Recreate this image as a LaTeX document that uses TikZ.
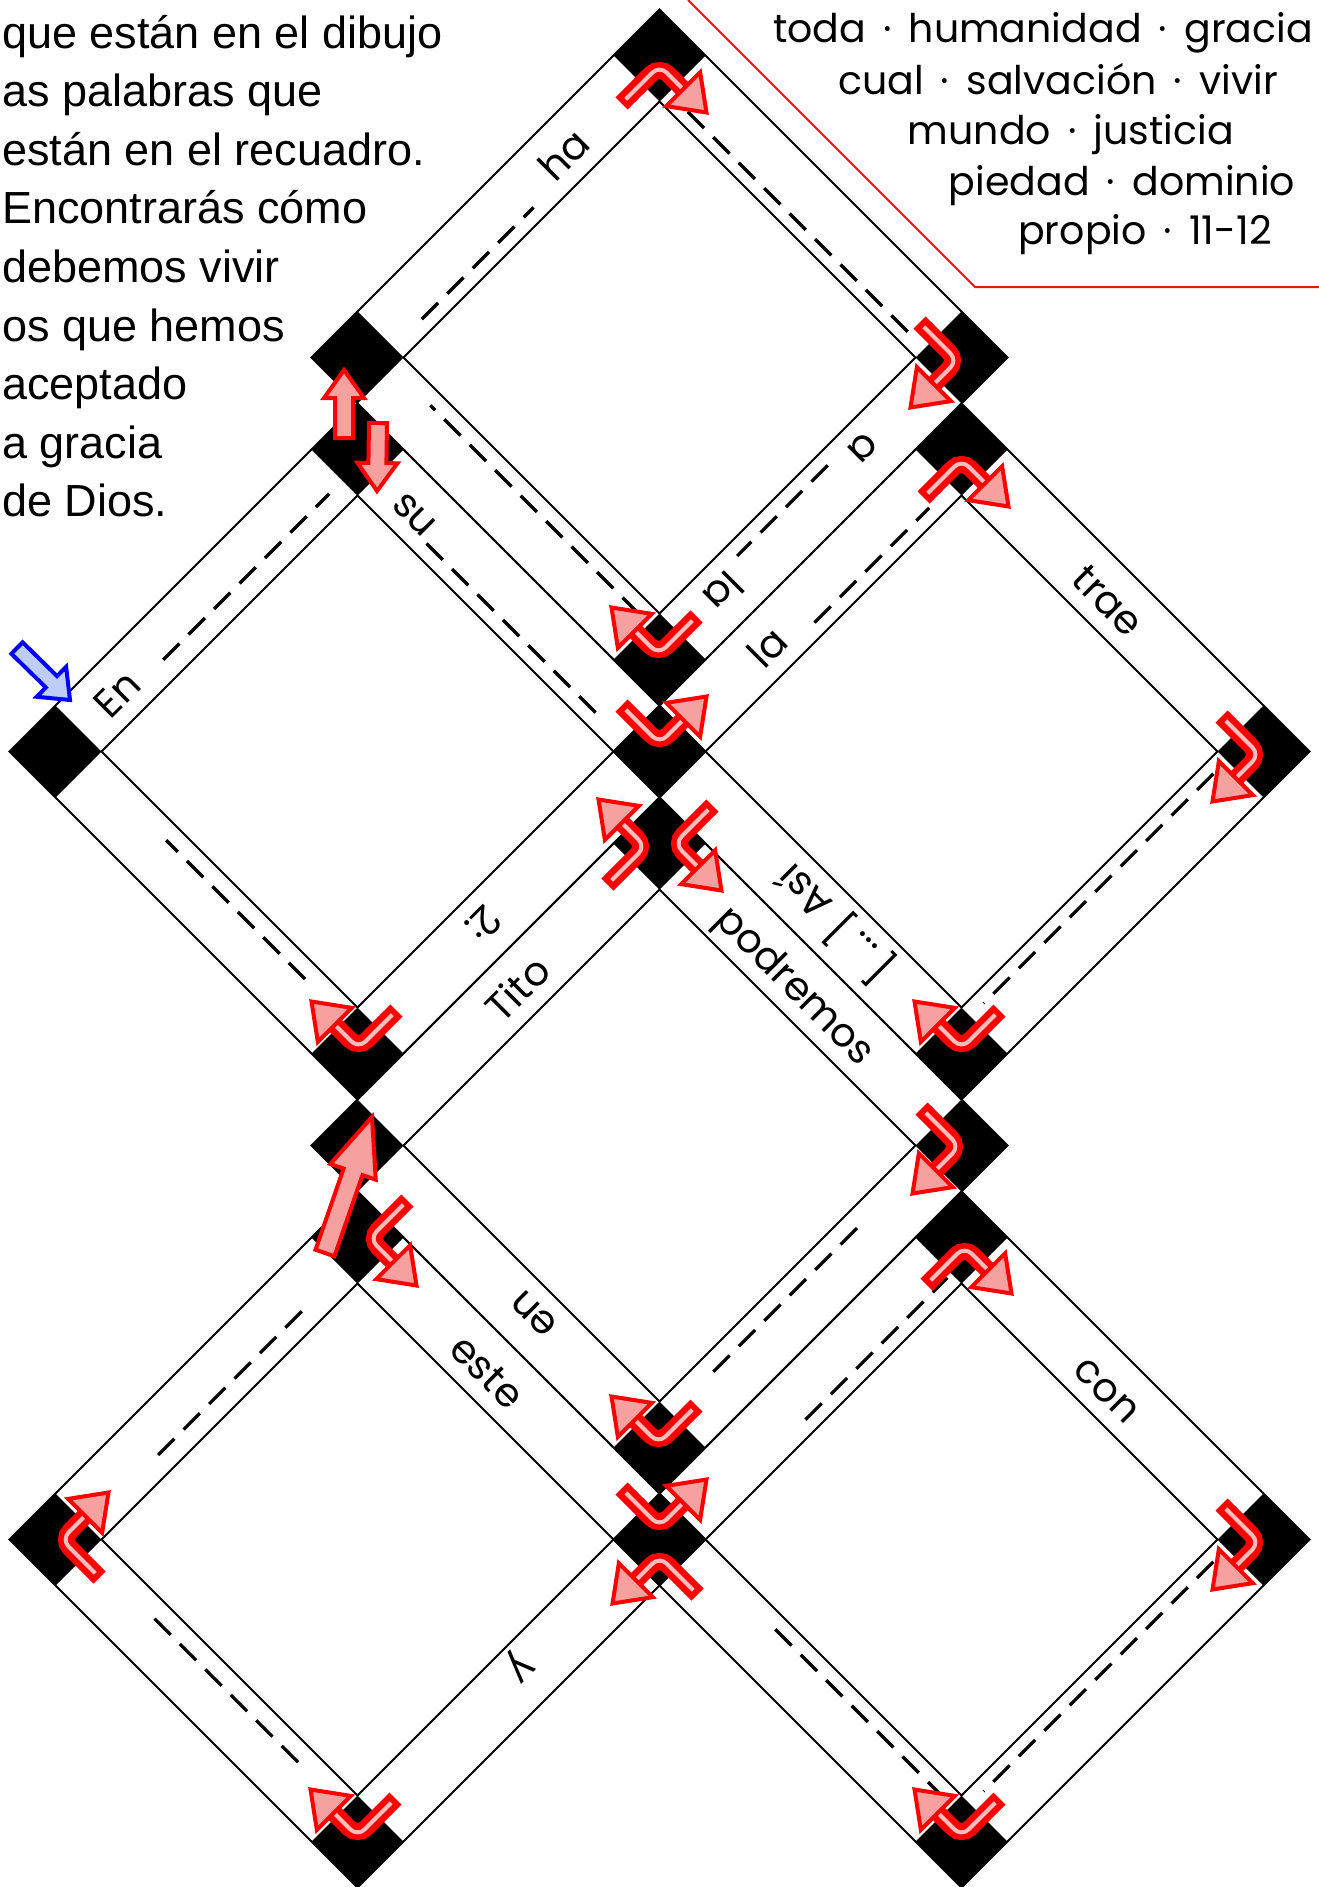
\documentclass[tikz,border=0pt]{standalone}
\usepackage{fontspec}
\setmainfont{Liberation Sans}
\newfontfamily\comicfont{Poppins}
\usetikzlibrary{calc}
\definecolor{arrred}{RGB}{255,0,0}
\definecolor{arrpink}{RGB}{246,160,160}
\definecolor{arrshine}{RGB}{250,190,190}
\definecolor{bluefill}{RGB}{190,205,245}
\definecolor{bluedraw}{RGB}{0,0,255}
\definecolor{boxred}{RGB}{225,25,25}
\tikzset{
  edge/.style={line width=2pt, draw=black},
  blank/.style={line width=3.2pt, dash pattern=on 23pt off 13pt},
  word/.style={font=\comicfont\fontsize{40}{48}\selectfont, inner sep=0pt, anchor=base},
  lefttext/.style={font=\fontsize{45}{54}\selectfont, inner sep=0pt, anchor=base west},
  boxtext/.style={font=\comicfont\fontsize{39.5}{48}\selectfont, inner sep=0pt, anchor=base},
  shaft/.style={draw=arrred, line width=17pt, rounded corners=12pt},
  shine/.style={draw=arrshine, line width=4pt, rounded corners=10pt},
  headtip/.style={fill=arrpink, draw=arrred, line width=4pt, line join=miter},
  blockred/.style={fill=arrpink, draw=arrred, line width=4pt, line join=miter},
  blockblue/.style={fill=bluefill, draw=bluedraw, line width=4pt, line join=miter},
}
% corner square
\newcommand{\csq}[2]{\fill (#1,#2-46) -- (#1+46,#2) -- (#1,#2+46) -- (#1-46,#2) -- cycle;}
% diamond frame
\newcommand{\dframe}[2]{%
  \draw[edge] (#1,#2-348) -- (#1+348,#2) -- (#1,#2+348) -- (#1-348,#2) -- cycle;
  \draw[edge] (#1,#2-256) -- (#1+256,#2) -- (#1,#2+256) -- (#1-256,#2) -- cycle;
  \csq{#1}{#2-302}\csq{#1+302}{#2}\csq{#1}{#2+302}\csq{#1-302}{#2}}
% bent arrow: corner, bend offset, tail dir, tip dir
\newcommand{\turn}[7]{%
  \coordinate (ba-b) at ($(#1)+(#2,#3)$);
  \coordinate (ba-t) at ($(ba-b)+(38*#4,38*#5)$);
  \coordinate (ba-p) at ($(ba-b)+(47*#6,47*#7)$);
  \coordinate (ba-q) at ($(ba-p)!33pt!(ba-b)$);
  \coordinate (ba-e) at ($(ba-p)!30pt!(ba-b)$);
  \draw[shaft] (ba-t) -- (ba-b) -- (ba-e);
  \draw[shine] ($(ba-t)!6pt!(ba-b)$) -- (ba-b) -- (ba-e);
  \draw[headtip] (ba-p) -- ($(ba-q)!24pt!90:(ba-p)$) -- ($(ba-q)!24pt!-90:(ba-p)$) -- cycle;}
% block arrow: tail, tip, shaft half width, head half width, head length, style
\newcommand{\blockarrow}[6]{%
  \coordinate (bk-t) at #1; \coordinate (bk-p) at #2;
  \coordinate (bk-q) at ($(bk-p)!#5!(bk-t)$);
  \draw[#6] ($(bk-t)!#3!90:(bk-p)$) -- ($(bk-q)!#3!90:(bk-p)$) -- ($(bk-q)!#4!90:(bk-p)$)
    -- (bk-p) -- ($(bk-q)!#4!-90:(bk-p)$) -- ($(bk-q)!#3!-90:(bk-p)$) -- ($(bk-t)!#3!-90:(bk-p)$) -- cycle;}
% dashed blank along a band
\newcommand{\blankline}[6]{%
  \draw[blank] ($(#1)!#3!(#2)+(#5,#6)$) -- ($(#1)!#4!(#2)+(#5,#6)$);}
\begin{document}
\begin{tikzpicture}[x=1pt,y=-1pt]
\fill[white] (0,0) rectangle (1319,1887);
\useasboundingbox (0,0) rectangle (1319,1887);
% corner centres
\coordinate (At) at (659.5,55.5);  \coordinate (Al) at (357.5,357.5);
\coordinate (Ar) at (961.5,357.5); \coordinate (Ab) at (659.5,659.5);
\coordinate (Bt) at (357.5,449.5); \coordinate (Bl) at (55.5,751.5);
\coordinate (Bb) at (357.5,1053.5); \coordinate (BC) at (659.5,751.5);
\coordinate (Ct) at (961.5,449.5); \coordinate (Cr) at (1263.5,751.5);
\coordinate (Cb) at (961.5,1053.5);
\coordinate (Dt) at (659.5,843.5); \coordinate (Dl) at (357.5,1145.5);
\coordinate (Dr) at (961.5,1145.5); \coordinate (Db) at (659.5,1447.5);
\coordinate (Et) at (357.5,1237.5); \coordinate (El) at (55.5,1539.5);
\coordinate (Eb) at (357.5,1841.5); \coordinate (EF) at (659.5,1539.5);
\coordinate (Ft) at (961.5,1237.5); \coordinate (Fr) at (1263.5,1539.5);
\coordinate (Fb) at (961.5,1841.5);
% frames
\dframe{659.5}{357.5}
\dframe{357.5}{751.5}
\dframe{961.5}{751.5}
\dframe{659.5}{1145.5}
\dframe{357.5}{1539.5}
\dframe{961.5}{1539.5}
% blanks
\blankline{Bl}{Bt}{0.33}{0.88}{8}{8}
\blankline{Al}{At}{0.17}{0.54}{13}{13}
\blankline{At}{Ar}{0.14}{0.885}{-14}{14}
\blankline{Ar}{Ab}{0.40}{0.70}{-13}{-13}
\blankline{Ab}{Al}{0.11}{0.80}{12.5}{-12.5}
\blankline{Bt}{BC}{0.27}{0.83}{-12.5}{12.5}
\blankline{Bb}{Bl}{0.21}{0.67}{11}{-11}
\blankline{BC}{Ct}{0.47}{0.85}{13}{13}
\blankline{Cr}{Cb}{0.12}{0.88}{-14}{-14}
\blankline{Dr}{Db}{0.31}{0.79}{-11}{-11}
\blankline{El}{Et}{0.31}{0.79}{9}{9}
\blankline{Eb}{El}{0.23}{0.71}{10}{-10}
\blankline{EF}{Ft}{0.44}{0.91}{13}{13}
\blankline{Fr}{Fb}{0.12}{0.88}{-14}{-14}
\blankline{Fb}{EF}{0.10}{0.67}{13}{-13}
% band words
\node[word, rotate=45] (wEn) at (127,704) {En};
\node[word, rotate=45] (wha) at (574.5,164.5) {ha};
\node[word, rotate=-45] (wsu) at (406.5,522.5) {su};
\node[word, rotate=225] (wa) at (855,440) {a};
\node[word, rotate=225] (wlaA) at (713.5,581.5) {la};
\node[word, rotate=45] (wlaC) at (777.5,657.5) {la};
\node[word, rotate=-45] (wtrae) at (1098.5,610.5) {trae};
\node[word, rotate=225] (wdos) at (473.5,913.5) {2:};
\node[word, rotate=45] (wTito) at (528,999) {Tito};
\node[word, rotate=135] (wAsi) at (845,913) {[\,...\,] Así};
\node[word, rotate=-45] (wpod) at (786.5,994.5) {podremos};
\node[word, rotate=135] (wen) at (542,1306) {en};
\node[word, rotate=-45] (weste) at (477.5,1381.5) {este};
\node[word, rotate=-45] (wcon) at (1098.5,1398.5) {con};
\node[word, rotate=225] (wy) at (514,1661) {y};
% bent arrows
\turn{At}{0}{10}{-1}{1}{1}{1}
\turn{Ar}{-4}{3}{-1}{-1}{-1}{1}
\turn{Ab}{-1}{-5}{1}{-1}{-1}{-1}
\turn{BC}{0}{-8}{-1}{-1}{1}{-1}
\turn{Bb}{1}{-5}{1}{-1}{-1}{-1}
\turn{Ct}{0}{10}{-1}{1}{1}{1}
\turn{Cr}{-4}{3}{-1}{-1}{-1}{1}
\turn{Cb}{0}{-5}{1}{-1}{-1}{-1}
\turn{Dt}{-14}{3}{-1}{1}{-1}{-1}
\turn{Dt}{15}{0}{1}{-1}{1}{1}
\turn{Dr}{-2}{1}{-1}{-1}{-1}{1}
\turn{Db}{-1}{-4}{1}{-1}{-1}{-1}
\turn{Et}{12}{1}{1}{-1}{1}{1}
\turn{El}{6}{0}{1}{1}{1}{-1}
\turn{Eb}{0}{-5}{1}{-1}{-1}{-1}
\turn{EF}{0}{-13}{-1}{-1}{1}{-1}
\turn{EF}{0}{17}{1}{1}{-1}{1}
\turn{Ft}{3}{9}{-1}{1}{1}{1}
\turn{Fr}{-4}{3}{-1}{-1}{-1}{1}
\turn{Fb}{0}{-5}{1}{-1}{-1}{-1}
% straight arrows
\blockarrow{(344,438)}{(344,370)}{9pt}{20pt}{28pt}{blockred}
\blockarrow{(378,423)}{(377,491)}{9pt}{20pt}{28pt}{blockred}
\blockarrow{(325,1253)}{(372,1117)}{10pt}{24pt}{58pt}{blockred}
\blockarrow{(17,648)}{(70,700)}{8pt}{21pt}{26pt}{blockblue}
% word box
\draw[boxred, line width=2pt] (688,0) -- (975,287) -- (1319,287);
\node[boxtext] (b1) at (1043,42) {toda \,·\, humanidad \,·\, gracia};
\node[boxtext] (b2) at (1058,94) {cual \,·\, salvación \,·\, vivir};
\node[boxtext] (b3) at (1071,144) {mundo \,·\, justicia};
\node[boxtext] (b4) at (1122,195) {piedad \,·\, dominio};
\node[boxtext] (b5) at (1145,244) {propio \,·\, 11-12};
% instructions
\node[lefttext] (l1) at (2,48) {que están en el dibujo};
\node[lefttext] (l2) at (2,106.6) {as palabras que};
\node[lefttext] (l3) at (2,165.2) {están en el recuadro.};
\node[lefttext] (l4) at (2,223.8) {Encontrarás cómo};
\node[lefttext] (l5) at (2,282.4) {debemos vivir};
\node[lefttext] (l6) at (2,341) {os que hemos};
\node[lefttext] (l7) at (2,399.6) {aceptado};
\node[lefttext] (l8) at (2,458.2) {a gracia};
\node[lefttext] (l9) at (2,516.8) {de Dios.};
\end{tikzpicture}
\end{document}
